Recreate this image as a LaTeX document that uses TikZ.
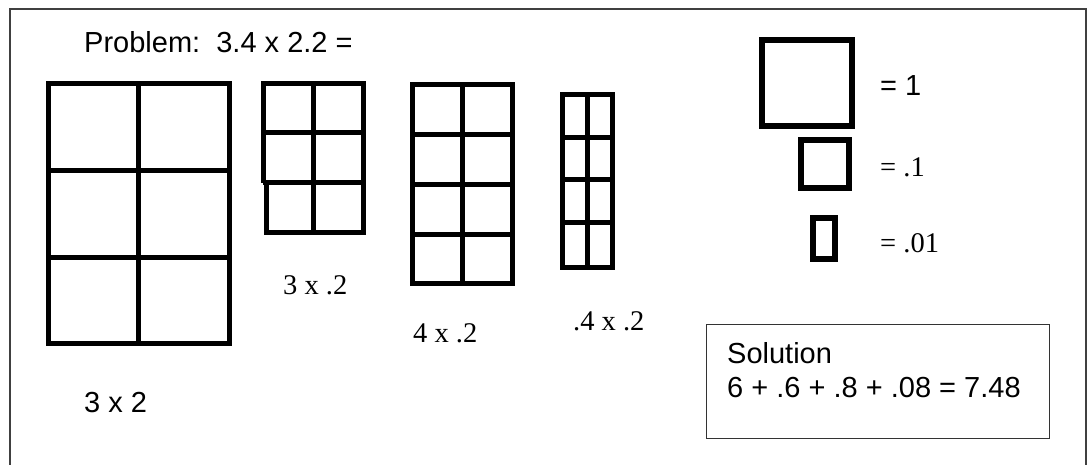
\documentclass[tikz,border=0pt]{standalone}
\usepackage{fontspec}
\setmainfont{Liberation Serif}
\newfontfamily\arialf{Liberation Sans}
\tikzset{
  gridline/.style={line width=5pt, line join=miter},
  unitline/.style={line width=6pt, line join=miter},
  sanslbl/.style={font=\arialf\fontsize{29}{33}\selectfont, inner sep=0pt, anchor=base west},
  seriflbl/.style={font=\fontsize{28.5}{32}\selectfont, inner sep=0pt, anchor=base west},
}
\begin{document}
\begin{tikzpicture}[x=1pt,y=-1pt]
\useasboundingbox (0,0) rectangle (1087,465);
% outer frame (bottom edge beyond the picture)
\draw[line width=1.5pt, black!75] (10,470) -- (10,9) -- (1086,9) -- (1086,470);

% title
\node[sanslbl] (problem) at (84,53) {Problem:\ \ 3.4 x 2.2 =};

% 3 x 2 grid
\draw[gridline] (48,84) rectangle (229,343);
\draw[gridline] (138,84) -- (138,343);
\draw[gridline] (48,171) -- (229,171);
\draw[gridline] (48,257) -- (229,257);
\node[sanslbl] (l32) at (84,412) {3 x 2};

% 3 x .2 grid
\draw[gridline] (263,183) -- (263,84) -- (363,84) -- (363,233) -- (266,233) -- (266,183);
\draw[gridline] (313,84) -- (313,233);
\draw[gridline] (263,133) -- (363,133);
\draw[gridline] (263,183) -- (363,183);
\node[seriflbl] (l3p2) at (283,294) {3 x .2};

% 4 x .2 grid
\draw[gridline] (412,85) rectangle (512,283);
\draw[gridline] (462,85) -- (462,283);
\draw[gridline] (412,135) -- (512,135);
\draw[gridline] (412,185) -- (512,185);
\draw[gridline] (412,235) -- (512,235);
\node[seriflbl] (l4p2) at (413,342) {4 x .2};

% .4 x .2 grid
\draw[gridline] (562,95) rectangle (612,267);
\draw[gridline] (587,95) -- (587,267);
\draw[gridline] (562,138) -- (612,138);
\draw[gridline] (562,180) -- (612,180);
\draw[gridline] (562,223) -- (612,223);
\node[seriflbl] (lp4p2) at (573,330) {.4 x .2};

% legend
\draw[unitline] (762,40) rectangle (852,126);
\node[sanslbl] (one) at (880,96) {= 1};
\draw[unitline] (801,140) rectangle (849,188);
\node[seriflbl] (tenth) at (880,177) {= .1};
\draw[unitline] (813,218) rectangle (835,259);
\node[seriflbl] (hundredth) at (880,253) {= .01};

% solution box
\draw[line width=1pt, black!80] (706,324) rectangle (1049,438);
\node[sanslbl] (soltitle) at (727,363) {Solution};
\node[sanslbl] (solline) at (727,397) {6 + .6 + .8 + .08 = 7.48};
\end{tikzpicture}
\end{document}
